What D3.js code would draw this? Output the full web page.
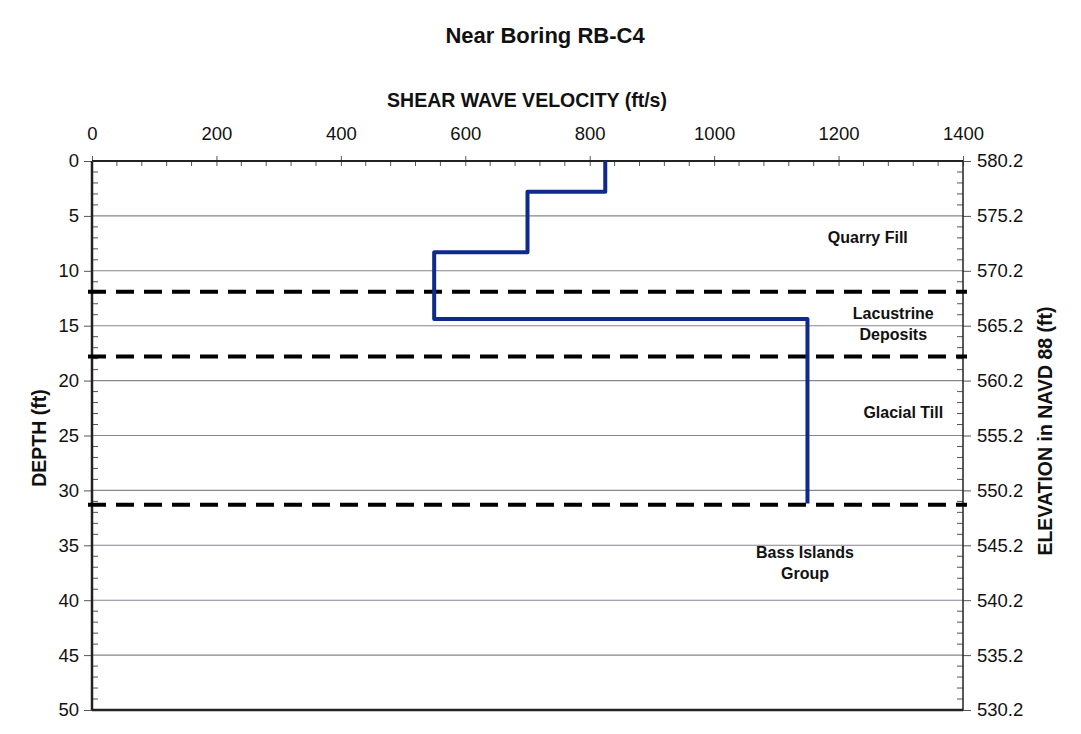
<!DOCTYPE html>
<html><head><meta charset="utf-8">
<script src="https://cdn.jsdelivr.net/npm/d3@7"></script>
<style>body{margin:0;background:#fff}svg{display:block}text{font-family:"Liberation Sans",Arial,sans-serif;fill:#111}</style>
</head><body><svg id="c" width="1081" height="734"></svg>
<script>
// Velocity profile: step function (depth ft, velocity ft/s)
const layerTops = [0, 2.8, 8.3, 14.4];
const layerBottoms = [2.8, 8.3, 14.4, 31.2];
const velocities = [825, 700, 550, 1150];
// Stratigraphic boundaries (depth ft)
const boundaries = [11.9, 17.8, 31.3];
const strataLabels = [
  {lines:["Quarry Fill"], v:1247, d:7.45},
  {lines:["Lacustrine","Deposits"], v:1288, d:14.4},
  {lines:["Glacial Till"], v:1304, d:23.4},
  {lines:["Bass Islands","Group"], v:1146, d:36.15}
];
const xTicks = [0,200,400,600,800,1000,1200,1400];
const depthTicks = [0,5,10,15,20,25,30,35,40,45,50];
const elevTop = 580.2;

const svg = d3.select("#c");
const L=92, R=963, T=161, B=710;
const FS = "18.5px";
const x = d3.scaleLinear().domain([0,1400]).range([L,R]);
const y = d3.scaleLinear().domain([0,50]).range([T,B]);
const yE = d3.scaleLinear().domain([elevTop, elevTop-50]).range([T,B]);

// gridlines
svg.append("g").selectAll("line").data(depthTicks.filter(d=>d>0&&d<50)).join("line")
  .attr("x1",L).attr("x2",R).attr("y1",d=>y(d)).attr("y2",d=>y(d))
  .attr("stroke","#8a8490").attr("stroke-width",1.1);

// top axis
const gx = svg.append("g").attr("transform",`translate(0,${T})`)
  .call(d3.axisTop(x).tickValues(xTicks).tickSize(5).tickPadding(16).tickFormat(d3.format("d")));
gx.select(".domain").remove();
gx.selectAll(".tick line").attr("y2",-5).attr("y1",5).attr("stroke","#555");
gx.selectAll("text").style("font-size",FS).attr("fill","#111");
svg.append("g").selectAll("line").data(d3.range(0,1401,40).filter(v=>v%200!==0)).join("line")
  .attr("x1",d=>x(d)).attr("x2",d=>x(d)).attr("y1",T).attr("y2",T+5).attr("stroke","#555");

// left axis
const gl = svg.append("g").attr("transform",`translate(${L},0)`)
  .call(d3.axisLeft(y).tickValues(depthTicks).tickSize(8).tickPadding(5));
gl.select(".domain").remove();
gl.selectAll(".tick line").attr("stroke","#555");
gl.selectAll("text").style("font-size",FS).attr("fill","#111");
svg.append("g").selectAll("line").data(d3.range(0,51,1).filter(v=>v%5!==0)).join("line")
  .attr("x1",L).attr("x2",L+6).attr("y1",d=>y(d)).attr("y2",d=>y(d)).attr("stroke","#555");

// right axis
const gr = svg.append("g").attr("transform",`translate(${R},0)`)
  .call(d3.axisRight(yE).tickValues(depthTicks.map(d=>elevTop-d)).tickSize(8).tickPadding(6).tickFormat(d3.format(".1f")));
gr.select(".domain").remove();
gr.selectAll(".tick line").attr("stroke","#555");
gr.selectAll("text").style("font-size",FS).attr("fill","#111");
svg.append("g").selectAll("line").data(d3.range(0,51,1).filter(v=>v%5!==0)).join("line")
  .attr("x1",R-6).attr("x2",R).attr("y1",d=>y(d)).attr("y2",d=>y(d)).attr("stroke","#555");

// frame
svg.append("line").attr("x1",L).attr("x2",R).attr("y1",T).attr("y2",T).attr("stroke","#222").attr("stroke-width",2);
svg.append("line").attr("x1",L).attr("x2",R).attr("y1",B).attr("y2",B).attr("stroke","#222").attr("stroke-width",2.5);
svg.append("line").attr("x1",L).attr("x2",L).attr("y1",T).attr("y2",B).attr("stroke","#222").attr("stroke-width",2.5);
svg.append("line").attr("x1",R).attr("x2",R).attr("y1",T).attr("y2",B).attr("stroke","#222").attr("stroke-width",1.5);

// boundaries
svg.append("g").selectAll("line").data(boundaries).join("line")
  .attr("x1",L-4).attr("x2",R+4).attr("y1",d=>y(d)).attr("y2",d=>y(d))
  .attr("stroke","#000").attr("stroke-width",4).attr("stroke-dasharray","18,10");

// velocity profile
const pts=[];
velocities.forEach((v,i)=>{pts.push([v,layerTops[i]]);pts.push([v,layerBottoms[i]]);});
svg.append("path").attr("d",d3.line().x(d=>x(d[0])).y(d=>y(d[1]))(pts))
  .attr("fill","none").attr("stroke","#0d2a8c").attr("stroke-width",4).attr("stroke-linejoin","round");

// strata labels
strataLabels.forEach(s=>{
  const t=svg.append("text").attr("text-anchor","middle").attr("x",x(s.v)).attr("y",y(s.d))
    .style("font-size","16px").style("font-weight","bold");
  s.lines.forEach((ln,i)=>t.append("tspan").attr("x",x(s.v)).attr("dy",i?21:0).text(ln));
});

// titles
svg.append("text").attr("x",545).attr("y",43).attr("text-anchor","middle").style("font-size","22px").style("font-weight","bold").text("Near Boring RB-C4");
svg.append("text").attr("x",527).attr("y",107).attr("text-anchor","middle").style("font-size","19.5px").style("font-weight","bold").text("SHEAR WAVE VELOCITY (ft/s)");
svg.append("text").attr("transform","translate(46,438) rotate(-90)").attr("text-anchor","middle").style("font-size","19.5px").style("font-weight","bold").text("DEPTH (ft)");
svg.append("text").attr("transform","translate(1052,431) rotate(-90)").attr("text-anchor","middle").style("font-size","19.5px").style("font-weight","bold").text("ELEVATION in NAVD 88 (ft)");
</script></body></html>
